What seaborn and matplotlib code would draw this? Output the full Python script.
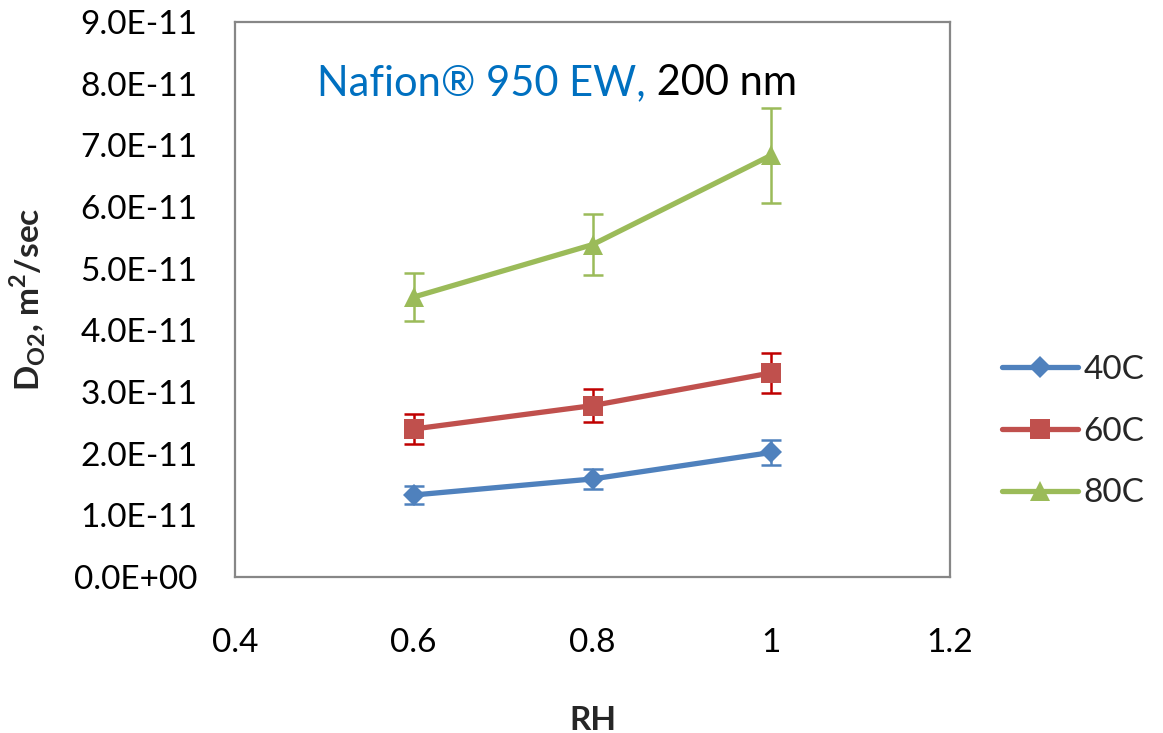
import matplotlib
matplotlib.use("Agg")
import matplotlib.pyplot as plt
import seaborn as sns
import pandas as pd

# Relative humidity levels
rh = [0.6, 0.8, 1.0]

# O2 diffusion coefficient (m^2/s) and its uncertainty for each temperature
d_40c = [1.33e-11, 1.59e-11, 2.02e-11]
err_40c = [0.15e-11, 0.16e-11, 0.20e-11]
d_60c = [2.40e-11, 2.78e-11, 3.31e-11]
err_60c = [0.25e-11, 0.27e-11, 0.33e-11]
d_80c = [4.54e-11, 5.39e-11, 6.84e-11]
err_80c = [0.39e-11, 0.50e-11, 0.77e-11]

series_names = ["40C", "60C", "80C"]
y_ticks = [i * 1e-11 for i in range(10)]
y_tick_labels = ["0.0E+00", "1.0E-11", "2.0E-11", "3.0E-11", "4.0E-11",
                 "5.0E-11", "6.0E-11", "7.0E-11", "8.0E-11", "9.0E-11"]
x_ticks = [0.4, 0.6, 0.8, 1.0, 1.2]
x_tick_labels = ["0.4", "0.6", "0.8", "1", "1.2"]

sns.set_theme(style="white")
plt.rcParams["font.family"] = ["Lato", "DejaVu Sans"]

rows = []
for name, vals, errs in zip(series_names, [d_40c, d_60c, d_80c], [err_40c, err_60c, err_80c]):
    for x, v, e in zip(rh, vals, errs):
        rows.append({"RH": x, "D": v, "err": e, "T": name})
df = pd.DataFrame(rows)

line_colors = {"40C": "#4F81BD", "60C": "#C0504D", "80C": "#9BBB59"}
err_colors = {"40C": "#4F81BD", "60C": "#C00000", "80C": "#9BBB59"}
markers = {"40C": "D", "60C": "s", "80C": "^"}
msizes = {"40C": 11, "60C": 14, "80C": 14}

fig = plt.figure(figsize=(11.63, 7.33), dpi=100)
ax = fig.add_axes([0.202, 0.2128, 0.615, 0.7572])

for name in series_names:
    sub = df[df["T"] == name]
    ax.errorbar(sub["RH"], sub["D"], yerr=sub["err"], fmt="none",
                ecolor=err_colors[name], elinewidth=1.8, capsize=7,
                capthick=1.8, zorder=2)
    sns.lineplot(data=sub, x="RH", y="D", ax=ax, color=line_colors[name],
                 marker=markers[name], markersize=msizes[name],
                 markeredgewidth=0, linewidth=3.8, label=name, zorder=3,
                 errorbar=None)

ax.set_xlim(0.4, 1.2)
ax.set_ylim(0, 9e-11)
ax.set_xticks(x_ticks)
ax.set_xticklabels(x_tick_labels)
ax.set_yticks(y_ticks)
ax.set_yticklabels(y_tick_labels)
ax.tick_params(axis="both", which="major", direction="out", length=7,
               width=1.5, color="#878787", labelsize=24, labelcolor="black")
ax.tick_params(axis="x", pad=30)
ax.tick_params(axis="y", pad=20)
for sp in ax.spines.values():
    sp.set_color("#878787")
    sp.set_linewidth(1.6)
ax.grid(False)

ax.set_xlabel("RH", fontsize=24, fontweight="bold", labelpad=34)
ax.set_ylabel(r"D$_{\mathregular{O2}}$, m$^{\mathregular{2}}$/sec", fontsize=24,
              fontweight="bold", labelpad=19)

t1 = ax.text(0.115, 0.868, "Nafion® 950 EW,", transform=ax.transAxes,
             fontsize=30, color="#0070C0", ha="left", va="baseline")
ax.annotate(" 200 nm", xy=(1, 0), xycoords=t1, fontsize=30, color="black",
            ha="left", va="bottom")

leg = ax.legend(loc="center left", bbox_to_anchor=(1.072, 0.262), frameon=False,
                fontsize=24, handlelength=2.3, labelspacing=0.95,
                handletextpad=0.15, borderaxespad=0, borderpad=0)

fig.savefig("out.png", dpi=100, facecolor="white")
